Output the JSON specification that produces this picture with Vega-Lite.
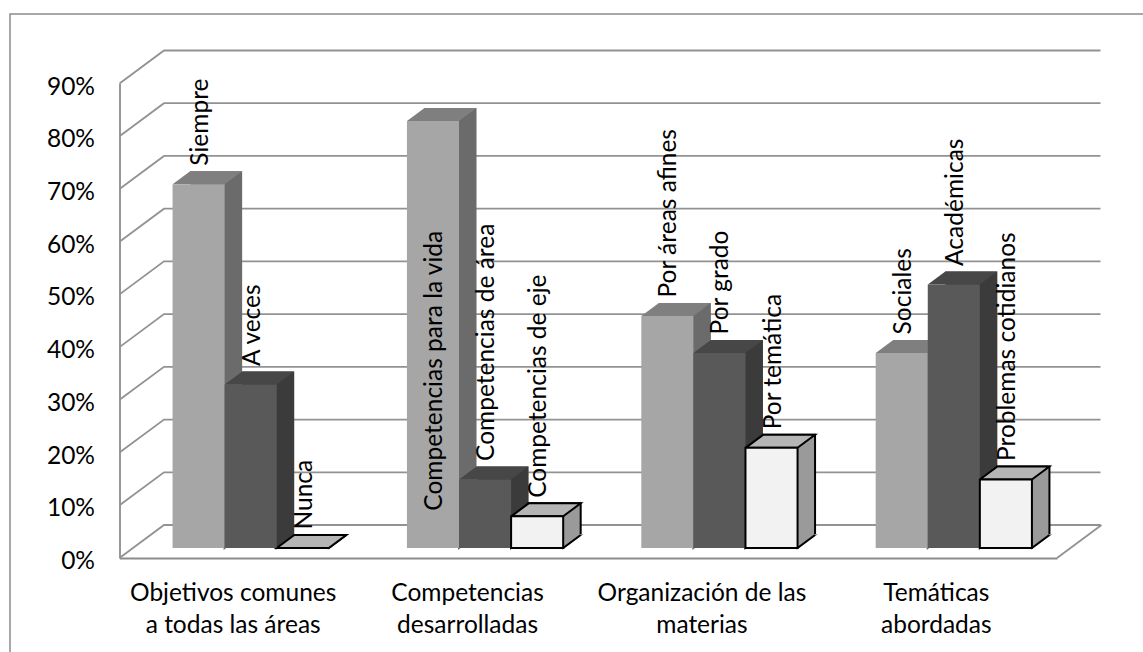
{"$schema":"https://vega.github.io/schema/vega-lite/v6.json","width":937.5,"height":474.5,"autosize":{"type":"none"},"padding":{"left":119.5,"top":83.5,"right":86,"bottom":94},"background":"white","view":{"stroke":null},
"datasets":{"bars":[
{"grupo":"Objetivos comunes a todas las áreas","serie":"Primera","etiqueta":"Siempre","valor":69},
{"grupo":"Objetivos comunes a todas las áreas","serie":"Segunda","etiqueta":"A veces","valor":31},
{"grupo":"Objetivos comunes a todas las áreas","serie":"Tercera","etiqueta":"Nunca","valor":0},
{"grupo":"Competencias desarrolladas","serie":"Primera","etiqueta":"Competencias para la vida","valor":81},
{"grupo":"Competencias desarrolladas","serie":"Segunda","etiqueta":"Competencias de área","valor":13},
{"grupo":"Competencias desarrolladas","serie":"Tercera","etiqueta":"Competencias de eje","valor":6},
{"grupo":"Organización de las materias","serie":"Primera","etiqueta":"Por áreas afines","valor":44},
{"grupo":"Organización de las materias","serie":"Segunda","etiqueta":"Por grado","valor":37},
{"grupo":"Organización de las materias","serie":"Tercera","etiqueta":"Por temática","valor":19},
{"grupo":"Temáticas abordadas","serie":"Primera","etiqueta":"Sociales","valor":37},
{"grupo":"Temáticas abordadas","serie":"Segunda","etiqueta":"Académicas","valor":50},
{"grupo":"Temáticas abordadas","serie":"Tercera","etiqueta":"Problemas cotidianos","valor":13}],
"marcas":[{"t":0},{"t":10},{"t":20},{"t":30},{"t":40},{"t":50},{"t":60},{"t":70},{"t":80},{"t":90}]},
"config":{"font":"Lato","axis":{"labelFont":"Lato","labelColor":"#000000"}},
"layer":[
{"data":{"name":"marcas"},
"mark":{"type":"point","shape":"M-468.75 0 L-424.25 -33 L512.25 -33","size":4,"filled":false,"stroke":"#929292","strokeWidth":1.8,"opacity":1},
"encoding":{"y":{"field":"t","type":"quantitative","scale":{"domain":[0,90],"nice":false},"title":null,"axis":{"values":[0,10,20,30,40,50,60,70,80,90],"grid":false,"ticks":false,"domainColor":"#8c8c8c","domainWidth":1.8,"labelFontSize":24.5,"labelPadding":25,"labelOffset":3.5,"labelExpr":"datum.value+'%'"}}}},
{"data":{"name":"marcas"},"transform":[{"filter":"datum.t==0"}],
"mark":{"type":"point","shape":"M468.75 0 L513.25 -33","size":4,"filled":false,"stroke":"#929292","strokeWidth":1.8,"opacity":1},
"encoding":{"y":{"field":"t","type":"quantitative","scale":{"domain":[0,90],"nice":false},"axis":null}}},
{"data":{"name":"marcas"},"transform":[{"filter":"datum.t==0"}],
"mark":{"type":"point","shape":"M-578.25 110 L-578.25 -544 L570 -544","size":4,"filled":false,"stroke":"#8c8c8c","strokeWidth":1.5,"opacity":1},
"encoding":{"y":{"field":"t","type":"quantitative","scale":{"domain":[0,90],"nice":false},"axis":null}}},
{"data":{"name":"bars"},
"encoding":{"x":{"field":"grupo","type":"nominal","sort":null,"scale":{"domain":["Objetivos comunes a todas las áreas","Competencias desarrolladas","Organización de las materias","Temáticas abordadas"],"paddingInner":0.3333,"paddingOuter":0.16667},"title":null,"axis":{"labelAngle":0,"ticks":false,"grid":false,"domainColor":"#8c8c8c","domainWidth":1.8,"labelFontSize":24.5,"labelPadding":23,"labelOffset":-3.5,"labelLineHeight":32,"labelLimit":400,"labelExpr":"{'Objetivos comunes a todas las áreas':['Objetivos comunes','a todas las áreas'],'Competencias desarrolladas':['Competencias','desarrolladas'],'Organización de las materias':['Organización de las','materias'],'Temáticas abordadas':['Temáticas','abordadas']}[datum.value]"}},
"y":{"field":"valor","type":"quantitative","scale":{"domain":[0,90],"nice":false},"axis":null}},
"layer":[
{"mark":{"type":"bar","yOffset":-23,"strokeWidth":2},
"encoding":{"xOffset":{"field":"serie","type":"nominal","sort":null,"scale":{"domain":["Primera","Segunda","Tercera"],"range":[31.5,187.75]}},"fill":{"field":"serie","type":"nominal","legend":null,"scale":{"domain":["Primera","Segunda","Tercera"],"range":["#6b6b6b","#3b3b3b","#9a9a9a"]}},"stroke":{"field":"serie","type":"nominal","legend":null,"scale":{"domain":["Primera","Segunda","Tercera"],"range":["transparent","transparent","#000000"]}}}},
{"mark":{"type":"point","shape":"M26 -10 L43.5 -23 L26 -23 Z","size":4,"filled":true,"opacity":1,"strokeWidth":2},
"encoding":{"xOffset":{"field":"serie","type":"nominal","sort":null,"scale":{"domain":["Primera","Segunda","Tercera"],"range":[14,170.25]}},"y":{"datum":0,"type":"quantitative","scale":{"domain":[0,90],"nice":false},"axis":null},"fill":{"field":"serie","type":"nominal","legend":null,"scale":{"domain":["Primera","Segunda","Tercera"],"range":["#6b6b6b","#3b3b3b","#9a9a9a"]}},"stroke":{"field":"serie","type":"nominal","legend":null,"scale":{"domain":["Primera","Segunda","Tercera"],"range":["#6b6b6b","#3b3b3b","#9a9a9a"]}}}},
{"mark":{"type":"point","shape":"M26 -10 L43.5 -23","size":4,"filled":false,"opacity":1,"strokeWidth":2},
"encoding":{"xOffset":{"field":"serie","type":"nominal","sort":null,"scale":{"domain":["Primera","Segunda","Tercera"],"range":[14,170.25]}},"y":{"datum":0,"type":"quantitative","scale":{"domain":[0,90],"nice":false},"axis":null},"stroke":{"field":"serie","type":"nominal","legend":null,"scale":{"domain":["Primera","Segunda","Tercera"],"range":["transparent","transparent","#000000"]}}}},
{"mark":{"type":"point","shape":"M-26 -10 L26 -10 L43.5 -23 L-8.5 -23 Z","size":4,"filled":true,"opacity":1,"strokeWidth":2},
"encoding":{"xOffset":{"field":"serie","type":"nominal","sort":null,"scale":{"domain":["Primera","Segunda","Tercera"],"range":[14,170.25]}},"fill":{"field":"serie","type":"nominal","legend":null,"scale":{"domain":["Primera","Segunda","Tercera"],"range":["#7f7f7f","#474747","#b5b5b5"]}},"stroke":{"field":"serie","type":"nominal","legend":null,"scale":{"domain":["Primera","Segunda","Tercera"],"range":["transparent","transparent","#000000"]}}}},
{"mark":{"type":"bar","yOffset":-10,"strokeWidth":2},
"encoding":{"xOffset":{"field":"serie","type":"nominal","sort":null,"scale":{"domain":["Primera","Segunda","Tercera"],"range":[14,170.25]}},"fill":{"field":"serie","type":"nominal","legend":null,"scale":{"domain":["Primera","Segunda","Tercera"],"range":["#a6a6a6","#595959","#f2f2f2"]}},"stroke":{"field":"serie","type":"nominal","legend":null,"scale":{"domain":["Primera","Segunda","Tercera"],"range":["transparent","transparent","#000000"]}}}},
{"transform":[{"filter":"datum.etiqueta!='Competencias para la vida'"}],
"mark":{"type":"text","angle":270,"align":"left","baseline":"alphabetic","font":"Lato","fontSize":24.5,"color":"#000000","yOffset":-28.5},
"encoding":{"xOffset":{"field":"serie","type":"nominal","sort":null,"scale":{"domain":["Primera","Segunda","Tercera"],"range":[23,179.25]}},"text":{"field":"etiqueta","type":"nominal"}}},
{"transform":[{"filter":"datum.etiqueta=='Competencias para la vida'"}],
"mark":{"type":"text","angle":270,"align":"left","baseline":"alphabetic","font":"Lato","fontSize":24.5,"color":"#000000","yOffset":379.7},
"encoding":{"xOffset":{"field":"serie","type":"nominal","sort":null,"scale":{"domain":["Primera","Segunda","Tercera"],"range":[23,179.25]}},"text":{"field":"etiqueta","type":"nominal"}}}
],
"resolve":{"scale":{"fill":"independent","stroke":"independent","xOffset":"independent"},"axis":{"y":"independent"}}}
],
"resolve":{"axis":{"y":"independent"}}}
